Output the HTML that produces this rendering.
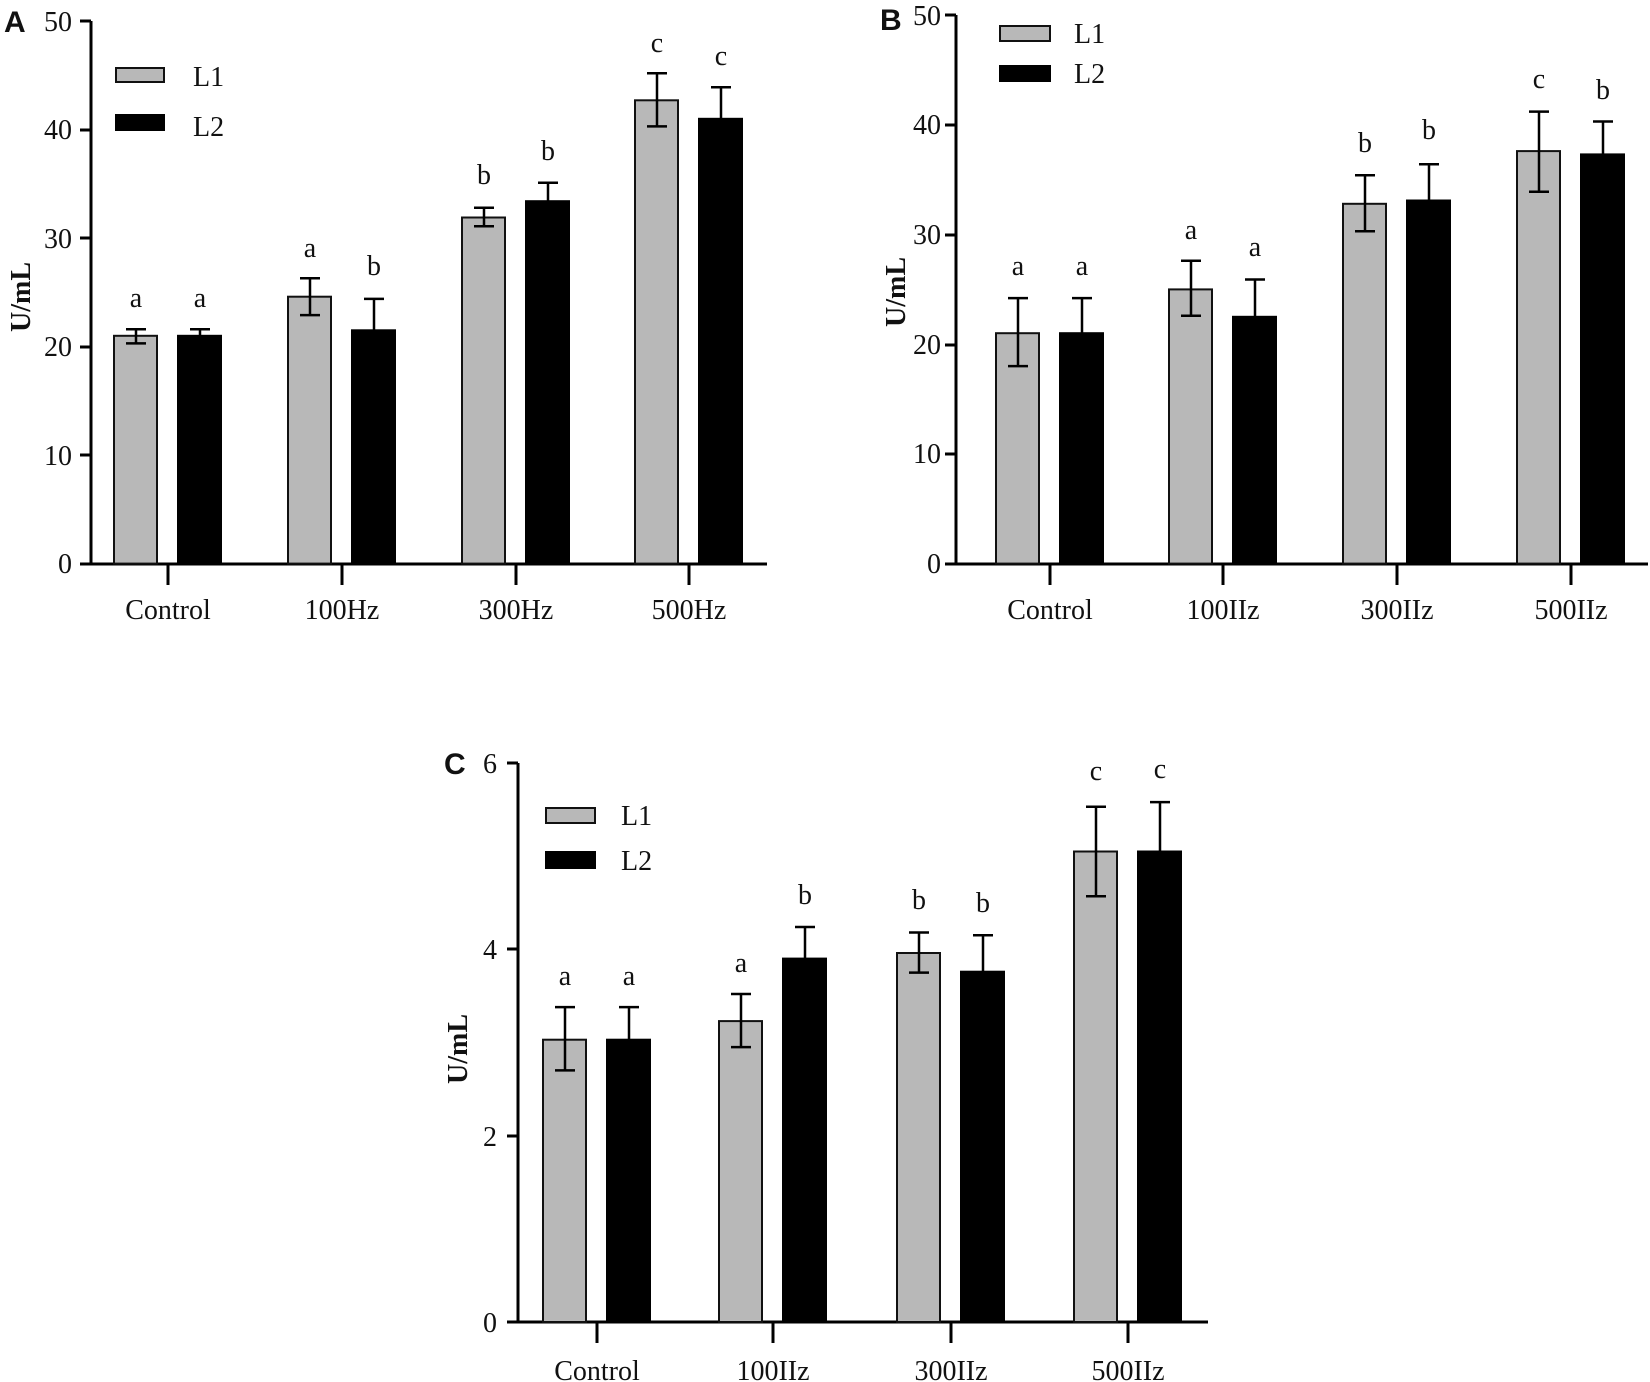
<!DOCTYPE html>
<html><head><meta charset="utf-8"><style>
html,body{margin:0;padding:0;background:#fff}
svg{display:block}
text{font-family:"Liberation Serif",serif;font-size:28px;fill:#111}
.pl{font-family:"Liberation Sans",sans-serif;font-weight:bold;font-size:30px}
.yl{font-weight:bold;font-size:28px}
.g{fill:#b8b8b8;stroke:#111;stroke-width:2}
.k{fill:#000;stroke:#000;stroke-width:2}
.ax{stroke:#000;stroke-width:3;fill:none}
.e{stroke:#000;stroke-width:2.5;fill:none}
</style></head><body>
<svg width="1650" height="1382" viewBox="0 0 1650 1382" xmlns="http://www.w3.org/2000/svg">
<!-- Panel A -->
<text class="pl" x="4" y="32">A</text>
<text class="yl" transform="translate(30,297) rotate(-90)" text-anchor="middle">U/mL</text>
<g text-anchor="end">
<text x="72" y="31">50</text><text x="72" y="139">40</text><text x="72" y="248">30</text><text x="72" y="356">20</text><text x="72" y="465">10</text><text x="72" y="573">0</text>
</g>
<path class="ax" d="M91,21V564M80,21H91M80,130H91M80,238H91M80,347H91M80,455H91M80,564H767M168,564V585M342,564V585M516,564V585M689,564V585"/>
<rect class="g" x="116" y="68" width="48" height="14"/><rect class="k" x="116" y="115" width="48" height="15"/>
<text x="193" y="86">L1</text><text x="193" y="136">L2</text>
<rect class="g" x="114" y="335.8" width="43" height="227.8"/><rect class="k" x="178" y="335.8" width="43" height="227.8"/>
<rect class="g" x="288" y="296.7" width="43" height="266.9"/><rect class="k" x="352" y="330.3" width="43" height="233.3"/>
<rect class="g" x="462" y="217.5" width="43" height="346.1"/><rect class="k" x="526" y="201.2" width="43" height="362.4"/>
<rect class="g" x="635" y="100.3" width="43" height="463.3"/><rect class="k" x="699" y="118.8" width="43" height="444.8"/>
<path class="e" d="M136,343.4V329.2M126,343.4H146M126,329.2H146 M200,335.8V329.2M190,329.2H210
M310,315.1V278.2M300,315.1H320M300,278.2H320 M374,330.3V298.9M364,298.9H384
M484,226.2V207.7M474,226.2H494M474,207.7H494 M548,201.2V182.8M538,182.8H558
M657,126.4V73.2M647,126.4H667M647,73.2H667 M721,118.8V87.3M711,87.3H731"/>
<g text-anchor="middle">
<text x="136" y="307">a</text><text x="200" y="307">a</text><text x="310" y="257">a</text><text x="374" y="275">b</text>
<text x="484" y="184">b</text><text x="548" y="160">b</text><text x="657" y="52">c</text><text x="721" y="65">c</text>
<text x="168" y="619">Control</text><text x="342" y="619">100Hz</text><text x="516" y="619">300Hz</text><text x="689" y="619">500Hz</text>
</g>
<!-- Panel B -->
<text class="pl" x="880" y="30">B</text>
<text class="yl" transform="translate(905,292) rotate(-90)" text-anchor="middle">U/mL</text>
<g text-anchor="end">
<text x="941" y="25">50</text><text x="941" y="134">40</text><text x="941" y="244">30</text><text x="941" y="354">20</text><text x="941" y="463">10</text><text x="941" y="573">0</text>
</g>
<path class="ax" d="M956,15V564M945,15H956M945,125H956M945,235H956M945,345H956M945,454H956M945,564H1648M1050,564V585M1223,564V585M1397,564V585M1571,564V585"/>
<rect class="g" x="1000" y="26" width="50" height="15"/><rect class="k" x="1000" y="66" width="50" height="15"/>
<text x="1074" y="43">L1</text><text x="1074" y="83">L2</text>
<rect class="g" x="996" y="333.2" width="43" height="230.4"/><rect class="k" x="1060" y="333.2" width="43" height="230.4"/>
<rect class="g" x="1169" y="289.4" width="43" height="274.2"/><rect class="k" x="1233" y="316.8" width="43" height="246.8"/>
<rect class="g" x="1343" y="203.8" width="43" height="359.8"/><rect class="k" x="1407" y="200.5" width="43" height="363.1"/>
<rect class="g" x="1517" y="151.1" width="43" height="412.5"/><rect class="k" x="1581" y="154.4" width="43" height="409.2"/>
<path class="e" d="M1018,366.1V298.1M1008,366.1H1028M1008,298.1H1028 M1082,333.2V298.1M1072,298.1H1092
M1191,315.7V260.8M1181,315.7H1201M1181,260.8H1201 M1255,316.8V279.5M1245,279.5H1265
M1365,231.2V175.3M1355,231.2H1375M1355,175.3H1375 M1429,200.5V164.3M1419,164.3H1439
M1539,191.7V111.6M1529,191.7H1549M1529,111.6H1549 M1603,154.4V121.5M1593,121.5H1613"/>
<g text-anchor="middle">
<text x="1018" y="275">a</text><text x="1082" y="275">a</text><text x="1191" y="239">a</text><text x="1255" y="256">a</text>
<text x="1365" y="152">b</text><text x="1429" y="139">b</text><text x="1539" y="88">c</text><text x="1603" y="99">b</text>
<text x="1050" y="619">Control</text><text x="1223" y="619">100IIz</text><text x="1397" y="619">300IIz</text><text x="1571" y="619">500IIz</text>
</g>
<!-- Panel C -->
<text class="pl" x="444" y="774">C</text>
<text class="yl" transform="translate(467,1049) rotate(-90)" text-anchor="middle">U/mL</text>
<g text-anchor="end">
<text x="497" y="773">6</text><text x="497" y="959">4</text><text x="497" y="1146">2</text><text x="497" y="1332">0</text>
</g>
<path class="ax" d="M518,763V1322M507,763H518M507,949H518M507,1136H518M507,1322H1208M597,1322V1343M773,1322V1343M951,1322V1343M1128,1322V1343"/>
<rect class="g" x="546" y="808" width="49" height="15"/><rect class="k" x="546" y="852" width="49" height="16"/>
<text x="621" y="825">L1</text><text x="621" y="870">L2</text>
<rect class="g" x="543" y="1039.7" width="43" height="282.3"/><rect class="k" x="607" y="1039.7" width="43" height="282.3"/>
<rect class="g" x="719" y="1021.1" width="43" height="300.9"/><rect class="k" x="783" y="958.6" width="43" height="363.4"/>
<rect class="g" x="897" y="953" width="43" height="369"/><rect class="k" x="961" y="971.7" width="43" height="350.3"/>
<rect class="g" x="1074" y="851.5" width="43" height="470.5"/><rect class="k" x="1138" y="851.5" width="43" height="470.5"/>
<path class="e" d="M565,1070.4V1007.1M555,1070.4H575M555,1007.1H575 M629,1039.7V1007.1M619,1007.1H639
M741,1047.1V994M731,1047.1H751M731,994H751 M805,958.6V927M795,927H815
M919,972.6V932.5M909,972.6H929M909,932.5H929 M983,971.7V935.3M973,935.3H993
M1096,896.2V806.8M1086,896.2H1106M1086,806.8H1106 M1160,851.5V802.1M1150,802.1H1170"/>
<g text-anchor="middle">
<text x="565" y="985">a</text><text x="629" y="985">a</text><text x="741" y="972">a</text><text x="805" y="904">b</text>
<text x="919" y="909">b</text><text x="983" y="912">b</text><text x="1096" y="780">c</text><text x="1160" y="778">c</text>
<text x="597" y="1380">Control</text><text x="773" y="1380">100IIz</text><text x="951" y="1380">300IIz</text><text x="1128" y="1380">500IIz</text>
</g>
</svg>
</body></html>
